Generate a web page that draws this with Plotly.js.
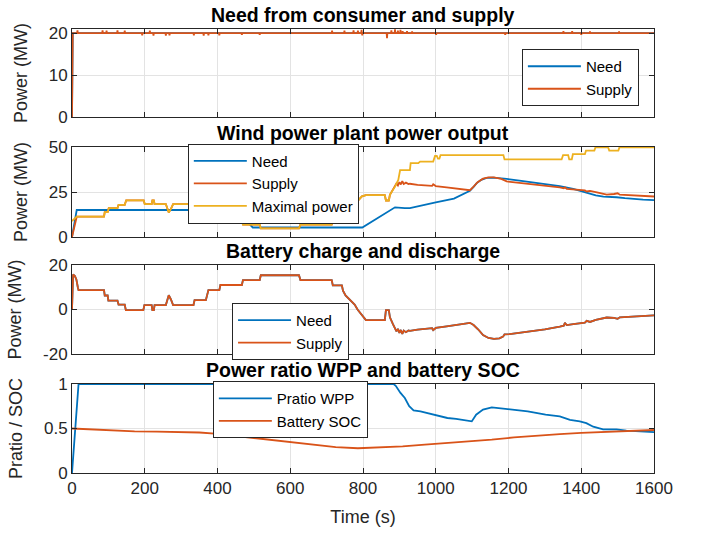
<!DOCTYPE html>
<html>
<head>
<meta charset="utf-8">
<script src="https://cdn.plot.ly/plotly-3.0.1.min.js"></script>
<style>html,body{margin:0;padding:0;background:#fff;}#chart{width:701px;height:533px;}</style>
</head>
<body>
<div id="chart"></div>
<script>
// ---------- Panel 1: Need from consumer and supply ----------
const consNeedT = [0, 2, 1600];
const consNeedV = [0, 20, 20];
const consSupplyT = [0, 1, 2, 14, 15, 16, 83, 84, 85, 94, 95, 96, 124, 125, 126, 144, 145, 146, 192, 193, 194, 213, 214, 215, 223, 224, 225,
  257, 258, 259, 267, 268, 269, 334, 335, 336, 361, 362, 363, 374, 375, 376, 404, 405, 406, 466, 467, 468, 515, 516, 517,
  714, 715, 716, 748, 749, 750, 773, 774, 775, 785, 786, 787, 795, 796, 797, 798, 799, 865, 866, 867, 877, 878, 879,
  887, 888, 889, 895, 896, 897, 902, 903, 904, 908, 909, 910, 920, 921, 922, 934, 935, 936, 1000, 1001, 1002,
  1190, 1191, 1192, 1350, 1351, 1352, 1374, 1375, 1376, 1399, 1400, 1401, 1423, 1424, 1425, 1503, 1504, 1505, 1600];
const consSupplyV = [0, 12, 20, 20, 20.7, 20, 20, 20.7, 20, 20, 20.6, 20, 20, 20.7, 20, 20, 20.6, 20, 20, 19.5, 20, 20, 20.6, 20, 20, 19.4, 20,
  20, 19.4, 20, 20, 19.5, 20, 20, 19.5, 20, 20, 19.4, 20, 20, 19.5, 20, 20, 19.5, 20, 20, 19.6, 20, 20, 19.6, 20,
  20, 20.6, 20, 20, 20.6, 20, 20, 20.7, 20, 20, 20.6, 20, 20, 20.8, 20, 19.5, 20, 20, 18.8, 20, 20, 20.7, 20,
  20, 20.9, 20, 20, 20.6, 20, 20, 20.8, 20, 20, 20.5, 20, 20, 20.5, 20, 20, 20.4, 20, 20, 19.6, 20,
  20, 19.6, 20, 20, 20.5, 20, 20, 20.5, 20, 20, 19.6, 20, 20, 20.4, 20, 20, 20.4, 20, 20];

// ---------- Panel 2: Wind power plant power output ----------
const wppNeedT = [0, 13, 454, 473, 497, 798, 888, 900, 915, 929, 960, 1000, 1050, 1094, 1104, 1112, 1125, 1140, 1158, 1175, 1195,
  1230, 1268, 1300, 1341, 1378, 1400, 1424, 1440, 1461, 1480, 1497, 1520, 1543, 1570, 1600];
const wppNeedV = [0, 15, 15, 10.3, 5.3, 5.3, 16.5, 16.5, 16.1, 16, 17.5, 19.2, 21.3, 25.7, 27.8, 29.8, 31.8, 32.8, 33, 32.8, 32.3,
  31.3, 30.2, 29.3, 28.3, 26.7, 25.5, 24.3, 23.1, 22.4, 22.3, 22.1, 21.6, 21.1, 20.8, 20.5];

const wppMaxT = [0, 13, 88, 90, 98, 101, 125, 128, 145, 149, 197, 200, 219, 221, 225, 227, 258, 262, 266, 272, 278, 334, 337, 368,
  371, 375, 405, 408, 467, 470, 516, 519, 624, 628, 714, 717, 742, 745, 752, 764, 777, 785, 797, 808, 860, 863, 871, 874,
  888, 897, 902, 929, 931, 952, 957, 993, 998, 1003, 1006, 1010, 1013, 1186, 1189, 1346, 1350, 1364, 1367, 1374, 1377,
  1410, 1413, 1436, 1439, 1474, 1477, 1502, 1505, 1600];
const wppMaxV = [8.9, 11.3, 11.3, 13.8, 13.8, 16, 16, 17.9, 17.9, 20.4, 20.4, 18.3, 18.3, 20.4, 20.4, 18.3, 18.3, 15.6, 13.6, 15.6, 18.3, 18.3, 15.9, 15.9,
  13.7, 11.3, 11.3, 9, 9, 6.9, 6.9, 4.8, 4.8, 6.9, 6.9, 9.2, 9.2, 11.5, 13.7, 15.5, 17.8, 20, 22.6, 23.3, 23.3, 20.3, 20.3, 23.5,
  28, 31.7, 37.2, 37.2, 41, 41, 41.9, 41.9, 45, 45, 43.5, 43.5, 45.5, 45.5, 43.1, 43.1, 45.5, 45.5, 43.1, 43.1, 46,
  46, 48, 48, 49.8, 49.8, 48, 48, 49.8, 49.8];

const wppSupplyT = [0, 5, 13, 88, 90, 98, 101, 125, 128, 145, 149, 197, 200, 219, 221, 225, 227, 258, 262, 266, 272, 278, 334, 337, 368,
  371, 375, 405, 408, 467, 470, 516, 519, 624, 628, 714, 717, 742, 745, 752, 764, 777, 785, 797, 808, 860, 863, 871, 874,
  882, 888, 892, 896, 900, 904, 908, 912, 918, 925, 929, 950, 980, 990, 993, 997, 1000, 1030, 1060, 1094, 1104, 1115, 1130,
  1145, 1160, 1180, 1195, 1230, 1268, 1300, 1341, 1352, 1355, 1360, 1378, 1400, 1410, 1415, 1424, 1440, 1461, 1470, 1490,
  1500, 1506, 1543, 1600];
const wppSupplyV = [0, 4.3, 11.3, 11.3, 13.8, 13.8, 16, 16, 17.9, 17.9, 20.4, 20.4, 18.3, 18.3, 20.4, 20.4, 18.3, 18.3, 15.6, 13.6, 15.6, 18.3, 18.3, 15.9, 15.9,
  13.7, 11.3, 11.3, 9, 9, 6.9, 6.9, 4.8, 4.8, 6.9, 6.9, 9.2, 9.2, 11.5, 13.7, 15.5, 17.8, 20, 22.6, 23.3, 23.3, 20.3, 20.3, 23.5,
  26.5, 28.5, 29.8, 28.7, 30.5, 29.2, 31, 29.5, 30.2, 29.4, 29.6, 29, 28.6, 28.4, 29.3, 28.5, 28.3, 27.6, 26.8, 26, 28, 30.5, 32.4,
  33.1, 33.1, 32.3, 30.9, 30.2, 29.3, 28.6, 27.6, 27.1, 27.6, 26.8, 26.5, 26, 25.9, 25.3, 25.6, 25, 24, 23.6, 23.9,
  24.3, 23.5, 23.1, 22.5];

// ---------- Panel 3: Battery charge and discharge ----------
const batT = [0, 3, 8, 12, 16, 18, 88, 90, 98, 100, 125, 128, 145, 148, 196, 199, 219, 221, 225, 227, 258, 262, 266, 272, 278, 334, 337,
  368, 371, 375, 405, 408, 467, 470, 516, 519, 624, 628, 714, 717, 742, 745, 752, 764, 777, 785, 797, 808, 860, 863, 871, 874,
  882, 888, 892, 896, 900, 904, 908, 912, 918, 925, 929, 950, 980, 990, 993, 997, 1000, 1030, 1060, 1094, 1104, 1117, 1130,
  1145, 1160, 1175, 1185, 1189, 1203, 1240, 1277, 1300, 1341, 1352, 1355, 1360, 1378, 1400, 1410, 1415, 1424, 1440, 1461,
  1470, 1490, 1500, 1506, 1543, 1600];
const batNeedV = [0, 15.7, 15, 13.5, 10, 8.7, 8.7, 6.3, 6.3, 4, 4, 2.2, 2.2, -0.3, -0.3, 2, 2, -0.3, -0.3, 2, 2, 4.5, 6.4, 4.5, 2, 2, 4.2,
  4.2, 6.3, 8.7, 8.7, 11, 11, 13.2, 13.2, 15.4, 15.4, 13.2, 13.2, 10.8, 10.8, 8.5, 6.3, 4.5, 2.2, 0, -2.6, -4.8, -4.8, -0.3, -0.3, -3.5,
  -6.5, -8.5, -9.8, -8.7, -10.5, -9.2, -11, -9.5, -10.2, -9.4, -9.6, -9, -8.6, -8.4, -9.3, -8.5, -8.3, -7.6, -6.8, -6, -7, -9, -11.5,
  -12.8, -13.2, -13, -12.2, -11.2, -11.1, -10.3, -9.7, -8.9, -7.7, -7.3, -6, -7, -6.6, -6, -5.9, -5.1, -5.6, -4.7, -3.8,
  -3.6, -3.8, -4.2, -3.5, -3.1, -2.6];
const batSupplyV = batNeedV.slice();

// ---------- Panel 4: Power ratio WPP and battery SOC ----------
const ratioT = [0, 18, 884, 890, 903, 915, 927, 939, 958, 982, 1001, 1013, 1032, 1056, 1080, 1099, 1111, 1130, 1154, 1179, 1191, 1203,
  1253, 1302, 1341, 1369, 1396, 1414, 1433, 1460, 1480, 1497, 1524, 1561, 1600];
const ratioV = [0, 1, 1, 0.98, 0.9, 0.843, 0.75, 0.704, 0.693, 0.667, 0.648, 0.63, 0.618, 0.607, 0.595, 0.58, 0.655, 0.712, 0.738, 0.727, 0.72, 0.722,
  0.693, 0.655, 0.635, 0.596, 0.58, 0.56, 0.52, 0.49, 0.49, 0.49, 0.475, 0.47, 0.46];
const socT = [0, 50, 110, 172, 233, 295, 350, 393, 440, 479, 540, 602, 660, 725, 786, 847, 909, 970, 1032, 1093, 1154, 1215, 1277,
  1341, 1400, 1460, 1524, 1600];
const socV = [0.5, 0.49, 0.475, 0.468, 0.465, 0.461, 0.455, 0.442, 0.42, 0.4, 0.37, 0.34, 0.315, 0.29, 0.278, 0.285, 0.3, 0.318, 0.335, 0.355,
  0.375, 0.4, 0.42, 0.437, 0.45, 0.462, 0.472, 0.483];

// ---------- Text ----------
const panelTitles = ['Need from consumer and supply', 'Wind power plant power output', 'Battery charge and discharge', 'Power ratio WPP and battery SOC'];
const yTitles = ['Power (MW)', 'Power (MW)', 'Power (MW)', 'Pratio / SOC'];
const xTitle = 'Time (s)';
const xTicks = [0, 200, 400, 600, 800, 1000, 1200, 1400, 1600];
const yTicks = [[0, 10, 20], [0, 25, 50], [-20, 0, 20], [0, 0.5, 1]];
const yRanges = [[0, 21], [0, 50], [-20, 20], [0, 1]];

// ---------- Styling ----------
const BLUE = '#0072BD', ORANGE = '#D95319', YELLOW = '#EDB120';
const FONT = '"Liberation Sans", Arial, Helvetica, sans-serif';
const AX = '#262626', GRID = '#e3e3e3';
const LW = 1.8;
const domains = [[0.8018, 1], [0.5315, 0.7342], [0.268, 0.4685], [0, 0.2005]];

function tr(x, y, name, color, idx, leg) {
  return {x: x, y: y, name: name, type: 'scatter', mode: 'lines',
    line: {color: color, width: LW}, xaxis: idx === 1 ? 'x' : 'x' + idx, yaxis: idx === 1 ? 'y' : 'y' + idx,
    legend: leg};
}
const data = [
  tr(consNeedT, consNeedV, 'Need', BLUE, 1, 'legend'),
  tr(consSupplyT, consSupplyV, 'Supply', ORANGE, 1, 'legend'),
  tr(wppNeedT, wppNeedV, 'Need', BLUE, 2, 'legend2'),
  tr(wppSupplyT, wppSupplyV, 'Supply', ORANGE, 2, 'legend2'),
  tr(wppMaxT, wppMaxV, 'Maximal power', YELLOW, 2, 'legend2'),
  tr(batT, batNeedV, 'Need', BLUE, 3, 'legend3'),
  tr(batT, batSupplyV, 'Supply', ORANGE, 3, 'legend3'),
  tr(ratioT, ratioV, 'Pratio WPP', BLUE, 4, 'legend4'),
  tr(socT, socV, 'Battery SOC', ORANGE, 4, 'legend4')
];

const layout = {
  width: 701, height: 533,
  margin: {l: 72, r: 47, t: 29, b: 60},
  paper_bgcolor: '#fff', plot_bgcolor: '#fff',
  font: {family: FONT, color: AX, size: 17},
  showlegend: true,
  annotations: [],
  shapes: []
};
function legendCfg(x, y, w) {
  return {x: x, y: y, xref: 'paper', yref: 'paper', xanchor: 'left', yanchor: 'top',
    bgcolor: '#fff', bordercolor: AX, borderwidth: 1, entrywidth: w, entrywidthmode: 'pixels',
    font: {family: FONT, size: 15, color: '#000'}, itemwidth: 53, tracegroupgap: 0, traceorder: 'normal'};
}
layout.legend = legendCfg(0.773, 0.955, 56);
layout.legend2 = legendCfg(0.199, 0.742, 110);
layout.legend3 = legendCfg(0.275, 0.383, 50);
layout.legend4 = legendCfg(0.242, 0.207, 96);

for (let i = 0; i < 4; i++) {
  const n = i + 1;
  const xa = n === 1 ? 'xaxis' : 'xaxis' + n;
  const ya = n === 1 ? 'yaxis' : 'yaxis' + n;
  layout[xa] = {
    domain: [0, 1], anchor: n === 1 ? 'y' : 'y' + n, range: [0, 1600],
    tickmode: 'array', tickvals: xTicks, ticktext: xTicks.map(String),
    showticklabels: n === 4, ticks: 'inside', ticklen: 5, tickcolor: AX, tickwidth: 1,
    showline: true, linecolor: AX, linewidth: 1, mirror: 'ticks',
    showgrid: true, gridcolor: GRID, gridwidth: 1, zeroline: false,
    tickfont: {family: FONT, size: 17, color: AX}
  };
  if (n > 1) layout[xa].matches = 'x';
  layout[ya] = {
    domain: domains[i], anchor: n === 1 ? 'x' : 'x' + n, range: yRanges[i],
    tickmode: 'array', tickvals: yTicks[i], ticktext: yTicks[i].map(String),
    ticks: 'inside', ticklen: 5, tickcolor: AX, tickwidth: 1,
    showline: true, linecolor: AX, linewidth: 1, mirror: 'ticks',
    showgrid: true, gridcolor: GRID, gridwidth: 1, zeroline: false,
    tickfont: {family: FONT, size: 17, color: AX},
    title: {text: yTitles[i], font: {family: FONT, size: 18, color: AX}, standoff: 16}
  };
  layout.annotations.push({
    text: '<b>' + panelTitles[i] + '</b>', xref: 'paper', yref: 'paper', x: 0.5, y: domains[i][1],
    xanchor: 'center', yanchor: 'bottom', yshift: 1, showarrow: false,
    font: {family: FONT, size: 19.5, color: '#000'}
  });
}
layout.xaxis4.title = {text: xTitle, font: {family: FONT, size: 18, color: AX}, standoff: 12};

Plotly.newPlot('chart', data, layout, {staticPlot: true, displayModeBar: false});
</script>
</body>
</html>
